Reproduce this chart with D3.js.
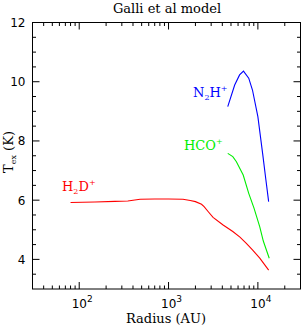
<!DOCTYPE html>
<meta charset="utf-8">
<script src="https://d3js.org/d3.v7.min.js"></script>
<style>
    body { margin: 0; background: #fff; }
    .num { font-family: "DejaVu Sans", sans-serif; font-size: 12px; }
    .lab { font-family: "DejaVu Serif", serif; font-size: 13px; }
</style>
<div id="vis"></div>
<script>
    // series (radius in AU, Tex in K)
    var h2dR = [80, 150, 250, 350, 480, 700, 1000, 1450, 1750, 2000, 2340, 2500, 2800, 3150, 4080, 5240, 6300, 7430, 8700, 10500, 13200];
    var h2dT = [5.92, 5.94, 5.96, 5.97, 6.03, 6.04, 6.04, 6.03, 5.99, 5.95, 5.86, 5.78, 5.60, 5.42, 5.16, 4.94, 4.75, 4.54, 4.32, 4.04, 3.64];
    var hcoR = [4600, 5240, 5750, 6850, 7900, 9050, 10500, 11500, 13400];
    var hcoT = [7.58, 7.47, 7.30, 6.85, 6.23, 5.73, 5.10, 4.62, 4.04];
    var n2hR = [4600, 5500, 6240, 6900, 7900, 8700, 10000, 11300, 12300, 13200];
    var n2hT = [9.16, 9.89, 10.23, 10.36, 10.12, 9.72, 8.82, 7.58, 6.68, 5.95];
    var yTicks = [4, 6, 8, 10, 12];
    var xTicks = [100, 1000, 10000];

    var W = 302, H = 327;
    var mgn = { top: 22.5, rgt: 1.5, btm: 38, lft: 32.5 };

    var svg = d3.select("#vis").append("svg")
        .attr("width", W).attr("height", H);

    var x = d3.scaleLog().domain([30, 30000]).range([mgn.lft, W - mgn.rgt]);
    var y = d3.scaleLinear().domain([3, 12]).range([H - mgn.btm, mgn.top]);

    // minor ticks for the log axis
    var xMinor = [];
    [10, 100, 1000, 10000].forEach(function (d) {
        for (var k = 2; k <= 9; k++) {
            var v = d * k;
            if (v > 30 && v < 30000) xMinor.push(v);
        }
    });
    var yMinor = d3.range(3.5, 12, 0.5).filter(function (v) { return v % 2 != 0; });

    var g = svg.append("g").attr("stroke", "#000").attr("stroke-width", 1);
    var x0 = x.range()[0], x1 = x.range()[1], y0 = y.range()[0], y1 = y.range()[1];

    function tick(xa, ya, xb, yb) {
        g.append("line").attr("x1", xa).attr("y1", ya).attr("x2", xb).attr("y2", yb);
    }
    xTicks.forEach(function (v) { tick(x(v), y0, x(v), y0 - 7); tick(x(v), y1, x(v), y1 + 7); });
    xMinor.forEach(function (v) { tick(x(v), y0, x(v), y0 - 3.5); tick(x(v), y1, x(v), y1 + 3.5); });
    yTicks.forEach(function (v) { tick(x0, y(v), x0 + 7, y(v)); tick(x1, y(v), x1 - 7, y(v)); });
    yMinor.forEach(function (v) { tick(x0, y(v), x0 + 3.5, y(v)); tick(x1, y(v), x1 - 3.5, y(v)); });

    g.append("rect").attr("x", x0).attr("y", y1)
        .attr("width", x1 - x0).attr("height", y0 - y1).attr("fill", "none");

    // tick labels
    svg.selectAll(".yl").data(yTicks).enter().append("text")
        .attr("class", "num").attr("text-anchor", "end")
        .attr("x", x0 - 7).attr("y", function (d) { return y(d) + 4.5; })
        .text(function (d) { return d; });

    var xl = svg.selectAll(".xl").data(xTicks).enter().append("text")
        .attr("class", "num").attr("text-anchor", "middle")
        .attr("x", function (d) { return x(d) + 3; }).attr("y", 308);
    xl.append("tspan").text("10");
    xl.append("tspan").attr("font-size", "9px").attr("dy", -6)
        .text(function (d) { return Math.round(Math.log10(d)); });

    // curves
    var line = d3.line()
        .x(function (d) { return x(d[0]); })
        .y(function (d) { return y(d[1]); });
    function series(r, t, col) {
        svg.append("path")
            .datum(d3.zip(r, t))
            .attr("d", line)
            .attr("fill", "none")
            .attr("stroke", col)
            .attr("stroke-width", 1.1);
    }
    series(h2dR, h2dT, "#ff0000");
    series(hcoR, hcoT, "#00ee00");
    series(n2hR, n2hT, "#0000ff");

    // molecule labels
    function molLabel(px, py, col, parts) {
        var t = svg.append("text").attr("class", "lab").attr("x", px).attr("y", py).attr("fill", col);
        parts.forEach(function (p) {
            var s = t.append("tspan").text(p[0]);
            if (p[1] == "sub") s.attr("font-size", "8px").attr("dy", 3);
            if (p[1] == "sup") s.attr("font-size", "8px").attr("dy", -6);
            if (p[1] == "back") s.attr("dy", -3);
        });
    }
    molLabel(193, 97, "#0000ff", [["N"], ["2", "sub"], ["H", "back"], ["+", "sup"]]);
    molLabel(184, 150, "#00ee00", [["HCO"], ["+", "sup"]]);
    molLabel(62, 191, "#ff0000", [["H"], ["2", "sub"], ["D", "back"], ["+", "sup"]]);

    // titles
    svg.append("text").attr("class", "lab").attr("text-anchor", "middle")
        .attr("x", 167).attr("y", 13).text("Galli et al model");
    svg.append("text").attr("class", "lab").attr("text-anchor", "middle")
        .attr("x", 166).attr("y", 323).text("Radius (AU)");
    var yt = svg.append("text").attr("class", "lab").attr("text-anchor", "middle")
        .attr("transform", "translate(13," + 152 + ") rotate(-90)");
    yt.append("tspan").text("T");
    yt.append("tspan").attr("font-size", "8px").attr("dy", 3).text("ex");
    yt.append("tspan").attr("dy", -3).text(" (K)");
</script>
